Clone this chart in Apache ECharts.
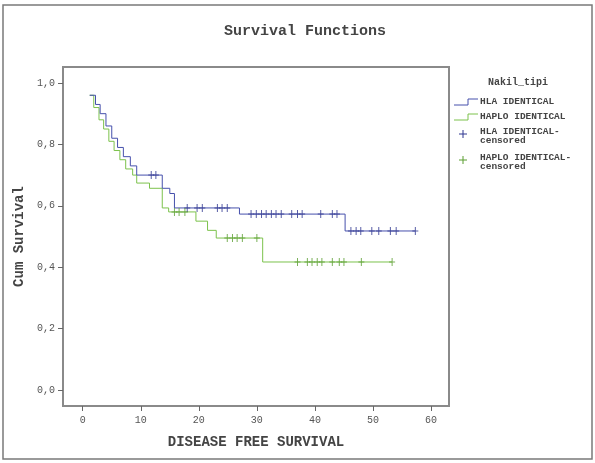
<!DOCTYPE html>
<html><head><meta charset="utf-8">
<script src="https://cdn.jsdelivr.net/npm/echarts@6/dist/echarts.min.js"></script>
<style>html,body{margin:0;padding:0;background:#fff}#c{width:595px;height:463px}</style>
</head><body><div id="c"></div>
<script>
var xTicks = [0, 10, 20, 30, 40, 50, 60];
var yTicks = [0, 0.2, 0.4, 0.6, 0.8, 1.0];

var hlaTimes = [1.2, 2.2, 3.0, 4.0, 5.0, 6.0, 7.0, 8.2, 9.3, 13.7, 15.0, 15.8, 27.0, 45.2, 57.3];
var hlaSurv  = [0.96, 0.93, 0.90, 0.86, 0.82, 0.79, 0.76, 0.73, 0.70, 0.657, 0.64, 0.593, 0.573, 0.518, 0.518];
var hlaCensor = [11.8, 12.6, 18.0, 19.7, 20.6, 23.2, 24.0, 24.9, 29.0, 29.9, 30.8, 31.6, 32.5, 33.3, 34.2, 36.0, 37.0, 37.8, 41.0, 43.0, 43.8, 46.2, 47.1, 47.9, 49.8, 51.0, 53.0, 54.0, 57.3];

var hapTimes = [1.2, 1.9, 2.8, 3.6, 4.5, 5.4, 6.4, 7.4, 8.6, 9.3, 11.5, 13.7, 14.8, 19.5, 21.5, 23.0, 31.0, 53.3];
var hapSurv  = [0.96, 0.92, 0.88, 0.85, 0.81, 0.78, 0.75, 0.72, 0.70, 0.674, 0.657, 0.593, 0.58, 0.55, 0.52, 0.495, 0.417, 0.417];
var hapCensor = [15.8, 16.6, 17.6, 24.9, 25.8, 26.6, 27.5, 30.0, 37.0, 38.7, 39.5, 40.4, 41.2, 43.0, 44.2, 45.0, 48.0, 53.3];

var blue = '#4650ac', green = '#7cc24c';
var mono = '"Liberation Mono", "DejaVu Sans Mono", monospace';

function pairs(t, s) { return t.map(function (v, i) { return [v, s[i]]; }); }
function levelAt(t, s, x) {
  var lv = s[0];
  for (var i = 0; i < t.length; i++) { if (t[i] <= x) lv = s[i]; }
  return lv;
}
function censorPts(c, t, s) { return c.map(function (x) { return [x, levelAt(t, s, x)]; }); }

var plus = 'path://M-0.5,-4H0.5V4H-0.5ZM-3,-0.5H3V0.5H-3Z';
function plusGlyph(cx, cy, col) {
  return [
    {type: 'line', shape: {x1: cx - 4, y1: cy, x2: cx + 4, y2: cy}, style: {stroke: col, lineWidth: 1}},
    {type: 'line', shape: {x1: cx, y1: cy - 4, x2: cx, y2: cy + 4}, style: {stroke: col, lineWidth: 1}}
  ];
}

var chart = echarts.init(document.getElementById('c'), null, {renderer: 'canvas'});
var graphics = [
  {type: 'rect', shape: {x: 3, y: 5, width: 589, height: 454}, style: {fill: null, stroke: '#7a7a7a', lineWidth: 1.5}, silent: true},
  {type: 'text', x: 518, y: 82, style: {text: 'Nakil_tipi', font: 'bold 10px ' + mono, fill: '#444', textAlign: 'center', textVerticalAlign: 'middle'}},
  {type: 'polyline', shape: {points: [[454, 105], [468, 105], [468, 99], [478, 99]]}, style: {stroke: blue, lineWidth: 1, fill: null}},
  {type: 'text', x: 480, y: 102, style: {text: 'HLA IDENTICAL', font: 'bold 9.5px ' + mono, fill: '#444', textVerticalAlign: 'middle'}},
  {type: 'polyline', shape: {points: [[454, 120], [468, 120], [468, 114], [478, 114]]}, style: {stroke: green, lineWidth: 1, fill: null}},
  {type: 'text', x: 480, y: 117, style: {text: 'HAPLO IDENTICAL', font: 'bold 9.5px ' + mono, fill: '#444', textVerticalAlign: 'middle'}},
  {type: 'text', x: 480, y: 132, style: {text: 'HLA IDENTICAL-', font: 'bold 9.5px ' + mono, fill: '#444', textVerticalAlign: 'middle'}},
  {type: 'text', x: 480, y: 141, style: {text: 'censored', font: 'bold 9.5px ' + mono, fill: '#444', textVerticalAlign: 'middle'}},
  {type: 'text', x: 480, y: 158, style: {text: 'HAPLO IDENTICAL-', font: 'bold 9.5px ' + mono, fill: '#444', textVerticalAlign: 'middle'}},
  {type: 'text', x: 480, y: 167, style: {text: 'censored', font: 'bold 9.5px ' + mono, fill: '#444', textVerticalAlign: 'middle'}}
].concat(plusGlyph(463, 134, '#2e3690')).concat(plusGlyph(463, 160, '#5a9e30'));

chart.setOption({
  animation: false,
  backgroundColor: '#fff',
  title: {
    text: 'Survival Functions', left: 300, top: 19, textAlign: 'center',
    textStyle: {fontFamily: mono, fontSize: 15, fontWeight: 'bold', color: '#444'}
  },
  grid: {left: 63, top: 67, right: 146, bottom: 57, show: true, borderColor: '#8a8a8a', borderWidth: 2},
  xAxis: {
    type: 'value', min: -3.4, max: 63.1,
    name: 'DISEASE FREE SURVIVAL', nameLocation: 'middle', nameGap: 29,
    nameTextStyle: {fontFamily: mono, fontSize: 14, fontWeight: 'bold', color: '#444'},
    axisLine: {show: true, onZero: false, lineStyle: {color: '#8a8a8a', width: 2}},
    axisTick: {show: true, customValues: xTicks, length: 5, lineStyle: {color: '#666'}},
    axisLabel: {customValues: xTicks, fontFamily: mono, fontSize: 10, color: '#555', margin: 9},
    splitLine: {show: false}
  },
  yAxis: {
    type: 'value', min: -0.052, max: 1.052,
    name: 'Cum Survival', nameLocation: 'middle', nameGap: 32, nameRotate: 90,
    nameTextStyle: {fontFamily: mono, fontSize: 14, fontWeight: 'bold', color: '#444'},
    axisLine: {show: true, onZero: false, lineStyle: {color: '#8a8a8a', width: 2}},
    axisTick: {show: true, customValues: yTicks, length: 5, lineStyle: {color: '#666'}},
    axisLabel: {customValues: yTicks, fontFamily: mono, fontSize: 10, color: '#555', margin: 8,
      formatter: function (v) { return v.toFixed(1).replace('.', ','); }},
    splitLine: {show: false}
  },
  series: [
    {type: 'line', name: 'HLA IDENTICAL', step: 'end', data: pairs(hlaTimes, hlaSurv), showSymbol: false,
      lineStyle: {color: blue, width: 1}, z: 3},
    {type: 'line', name: 'HAPLO IDENTICAL', step: 'end', data: pairs(hapTimes, hapSurv), showSymbol: false,
      lineStyle: {color: green, width: 1}, z: 2},
    {type: 'scatter', name: 'HLA IDENTICAL-censored', data: censorPts(hlaCensor, hlaTimes, hlaSurv),
      symbol: plus, symbolSize: [6, 8], itemStyle: {color: '#2e3690'}, z: 4},
    {type: 'scatter', name: 'HAPLO IDENTICAL-censored', data: censorPts(hapCensor, hapTimes, hapSurv),
      symbol: plus, symbolSize: [6, 8], itemStyle: {color: '#5a9e30'}, z: 4}
  ],
  graphic: graphics
});
</script></body></html>
